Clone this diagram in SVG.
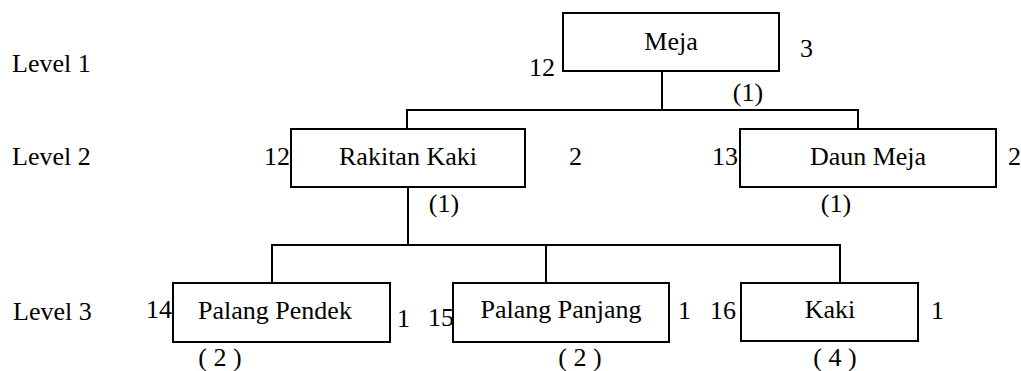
<svg xmlns="http://www.w3.org/2000/svg" width="1021" height="371" viewBox="0 0 1021 371">
<style>
  text { font-family: "Liberation Serif", "Times New Roman", serif; font-size: 26px; fill: #000; }
  .c { text-anchor: middle; }
  .e { text-anchor: end; }
  .box { fill: #fff; stroke: #000; stroke-width: 2; }
  .conn { fill: none; stroke: #000; stroke-width: 2; }
</style>
<rect width="1021" height="371" fill="#fff"/>
<g id="levels">
  <text x="12" y="72">Level 1</text>
  <text x="12" y="165">Level 2</text>
  <text x="13" y="320">Level 3</text>
</g>
<g id="connectors" class="conn">
  <path d="M662 71 V110"/>
  <path d="M407 129 V110 H858 V129"/>
  <path d="M408 187 V245"/>
  <path d="M272 283 V245 H840 V283"/>
  <path d="M546 245 V283"/>
</g>
<g id="meja">
  <rect class="box" x="563" y="13" width="216" height="58"/>
  <text class="c" x="671" y="50">Meja</text>
  <text class="e" x="555" y="76">12</text>
  <text x="800" y="57">3</text>
  <text class="c" x="748" y="101">(1)</text>
</g>
<g id="rakitan-kaki">
  <rect class="box" x="291" y="129" width="234" height="58"/>
  <text class="c" x="408" y="165">Rakitan Kaki</text>
  <text class="e" x="290" y="165">12</text>
  <text x="569" y="165">2</text>
  <text class="c" x="444" y="212">(1)</text>
</g>
<g id="daun-meja">
  <rect class="box" x="740" y="129" width="256" height="58"/>
  <text class="c" x="868" y="165">Daun Meja</text>
  <text class="e" x="738" y="165">13</text>
  <text x="1008" y="165">2</text>
  <text class="c" x="836" y="212">(1)</text>
</g>
<g id="palang-pendek">
  <rect class="box" x="173" y="283" width="217" height="59"/>
  <text class="c" x="275" y="319">Palang Pendek</text>
  <text class="e" x="172" y="318">14</text>
  <text x="397" y="327">1</text>
  <text class="c" x="220" y="366">( 2 )</text>
</g>
<g id="palang-panjang">
  <rect class="box" x="453" y="283" width="216" height="59"/>
  <text class="c" x="561" y="318">Palang Panjang</text>
  <text class="e" x="454" y="326">15</text>
  <text x="678" y="319">1</text>
  <text class="c" x="580" y="366">( 2 )</text>
</g>
<g id="kaki">
  <rect class="box" x="741" y="283" width="177" height="58"/>
  <text class="c" x="830" y="318">Kaki</text>
  <text class="e" x="736" y="319">16</text>
  <text x="931" y="319">1</text>
  <text class="c" x="835" y="366">( 4 )</text>
</g>
</svg>
